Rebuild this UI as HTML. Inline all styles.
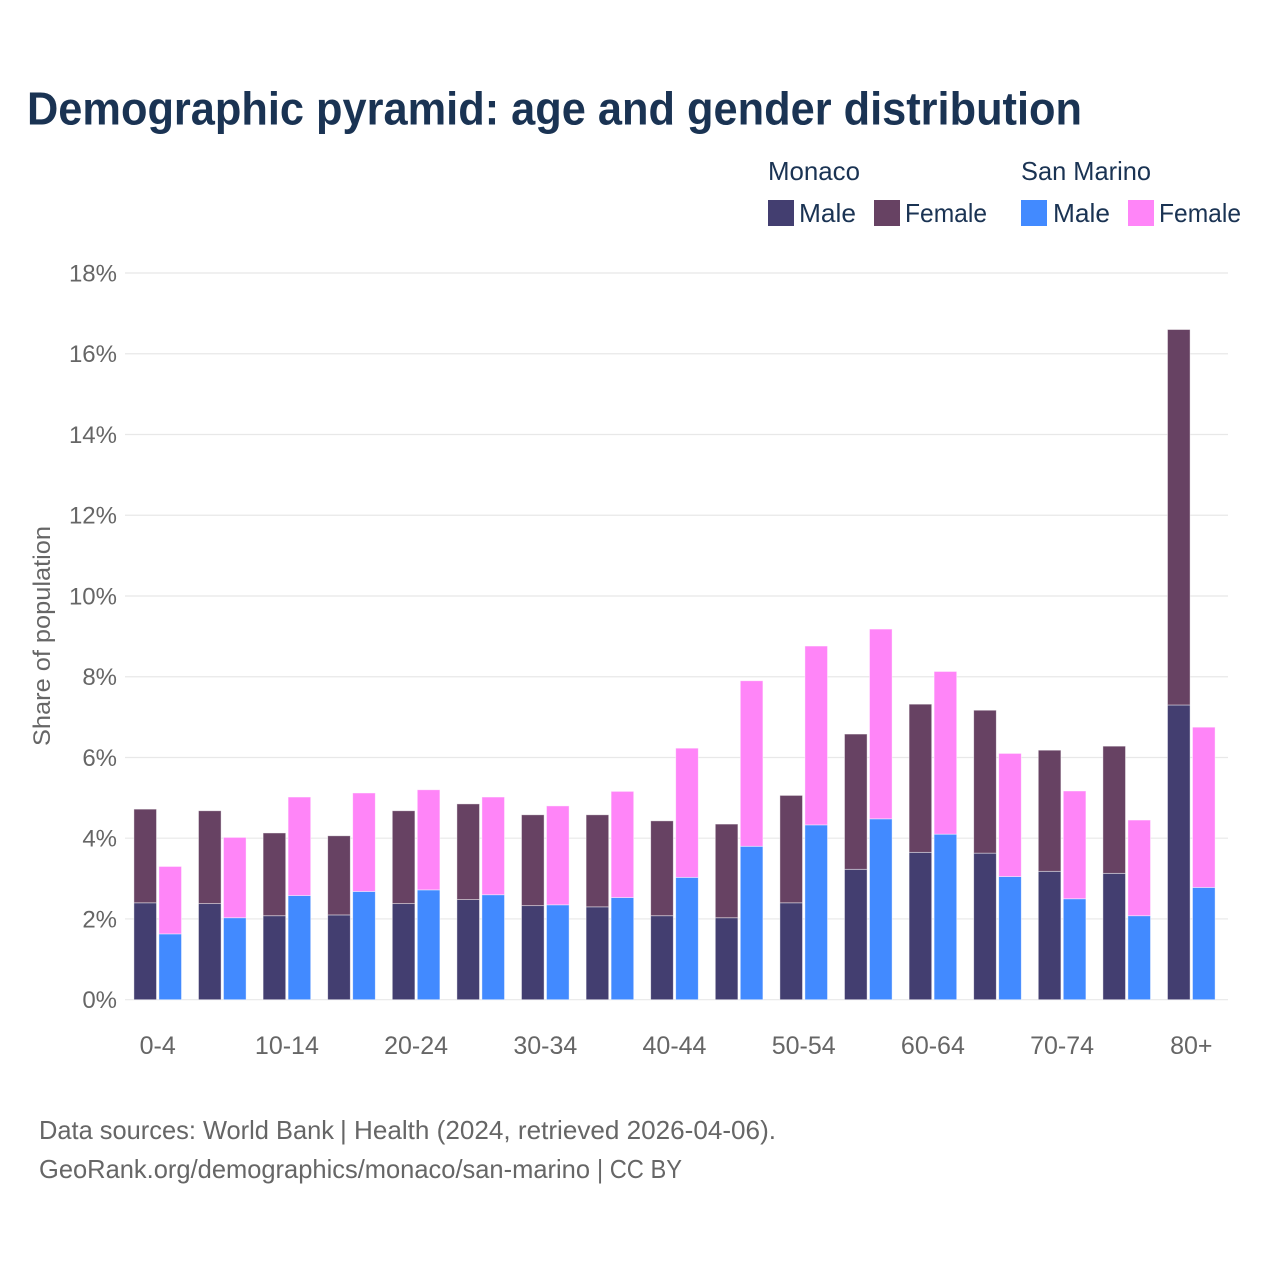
<!DOCTYPE html>
<html lang="en">
<head>
<meta charset="utf-8">
<title>Demographic pyramid: age and gender distribution</title>
<style>
html,body{margin:0;padding:0;background:#fff}
svg{display:block;font-family:"Liberation Sans",sans-serif}
</style>
</head>
<body>
<svg id="chart" width="1280" height="1280" viewBox="0 0 1280 1280" xmlns="http://www.w3.org/2000/svg">
  <rect width="1280" height="1280" fill="#ffffff"/>
  <text x="27" y="124.5" font-size="46" font-weight="700" fill="#1a3353" textLength="1055" lengthAdjust="spacingAndGlyphs">Demographic pyramid: age and gender distribution</text>

  <g font-size="26" fill="#1a3353">
    <text x="768" y="180" textLength="92" lengthAdjust="spacingAndGlyphs">Monaco</text>
    <text x="1021" y="180" textLength="130" lengthAdjust="spacingAndGlyphs">San Marino</text>
    <rect x="768" y="200" width="26" height="26" fill="#433e70"/>
    <text x="799" y="222" textLength="57" lengthAdjust="spacingAndGlyphs">Male</text>
    <rect x="874" y="200" width="26" height="26" fill="#674263"/>
    <text x="905" y="222" textLength="82" lengthAdjust="spacingAndGlyphs">Female</text>
    <rect x="1021" y="200" width="26" height="26" fill="#428aff"/>
    <text x="1053" y="222" textLength="57" lengthAdjust="spacingAndGlyphs">Male</text>
    <rect x="1128" y="200" width="26" height="26" fill="#ff85f8"/>
    <text x="1159" y="222" textLength="82" lengthAdjust="spacingAndGlyphs">Female</text>
  </g>

  <g id="grid"></g>
  <g id="yticks"></g>
  <g id="bars"></g>
  <g id="xticks"></g>

  <text transform="translate(50,636) rotate(-90)" text-anchor="middle" font-size="24" fill="#666666" textLength="220" lengthAdjust="spacingAndGlyphs">Share of population</text>

  <g font-size="26" fill="#666666">
    <text x="39" y="1139" textLength="295" lengthAdjust="spacingAndGlyphs">Data sources: World Bank</text>
    <text x="340" y="1139" textLength="436" lengthAdjust="spacingAndGlyphs">| Health (2024, retrieved 2026-04-06).</text>
  </g>
  <g font-size="26" fill="#666666">
    <text x="39" y="1178" textLength="551" lengthAdjust="spacingAndGlyphs">GeoRank.org/demographics/monaco/san-marino</text>
    <text x="597" y="1178" textLength="85" lengthAdjust="spacingAndGlyphs">| CC BY</text>
  </g>
</svg>
<script>
const categories = ['0-4','5-9','10-14','15-19','20-24','25-29','30-34','35-39','40-44','45-49','50-54','55-59','60-64','65-69','70-74','75-79','80+'];
const monacoMale = [2.40,2.38,2.08,2.10,2.38,2.48,2.33,2.30,2.08,2.03,2.40,3.23,3.65,3.63,3.18,3.13,7.30];
const monacoFemale = [2.32,2.30,2.05,1.96,2.30,2.37,2.25,2.28,2.35,2.32,2.66,3.35,3.67,3.54,3.00,3.15,9.30];
const sanMarinoMale = [1.63,2.03,2.58,2.68,2.72,2.60,2.35,2.53,3.03,3.80,4.33,4.48,4.10,3.05,2.50,2.08,2.78];
const sanMarinoFemale = [1.67,1.99,2.44,2.44,2.48,2.42,2.45,2.63,3.20,4.10,4.43,4.70,4.03,3.05,2.67,2.37,3.97];
const yTickValues = [0,2,4,6,8,10,12,14,16,18];

const NS = 'http://www.w3.org/2000/svg';
const yScale = v => 999.7 - v * (726.7 / 18);
const xBand = i => 157.7 + i * 64.6;
const barWidth = 22.6;
const barGap = 2.4;

function make(tag, attrs, parent) {
  const el = document.createElementNS(NS, tag);
  for (const k in attrs) el.setAttribute(k, attrs[k]);
  parent.appendChild(el);
  return el;
}

const gridG = document.getElementById('grid');
const yG = document.getElementById('yticks');
yTickValues.forEach(v => {
  const line = make('line', {x1: 125, x2: 1228, y1: yScale(v), y2: yScale(v), stroke: '#e8e8e8', 'stroke-width': 1.2}, gridG);
  
  
  const t = make('text', {x: 117, y: yScale(v) + 8.5, 'text-anchor': 'end', 'font-size': 24, fill: '#666666'}, yG);
  
  
  t.textContent = v + '%';
});

const barsG = document.getElementById('bars');
function drawBar(x, from, to, fill, name) {
  const top = yScale(to), bottom = yScale(from);
  const r = make('rect', {x: x, y: top, width: barWidth, height: bottom - top, fill: fill, stroke: '#ffffff', 'stroke-opacity': 0.55, 'stroke-width': 0.8}, barsG);
  
  
}
categories.forEach((c, i) => {
  const leftX = xBand(i) - barGap / 2 - barWidth;
  const rightX = xBand(i) + barGap / 2;
  drawBar(leftX, 0, monacoMale[i], '#433e70', 'bar-monaco-male');
  drawBar(leftX, monacoMale[i], monacoMale[i] + monacoFemale[i], '#674263', 'bar-monaco-female');
  drawBar(rightX, 0, sanMarinoMale[i], '#428aff', 'bar-san-marino-male');
  drawBar(rightX, sanMarinoMale[i], sanMarinoMale[i] + sanMarinoFemale[i], '#ff85f8', 'bar-san-marino-female');
});

const xG = document.getElementById('xticks');
categories.forEach((c, i) => {
  if (i % 2 !== 0) return;
  const t = make('text', {x: xBand(i), y: 1054, 'text-anchor': 'middle', 'font-size': 25, fill: '#666666'}, xG);
  
  
  t.textContent = c;
});
</script>
</body>
</html>
